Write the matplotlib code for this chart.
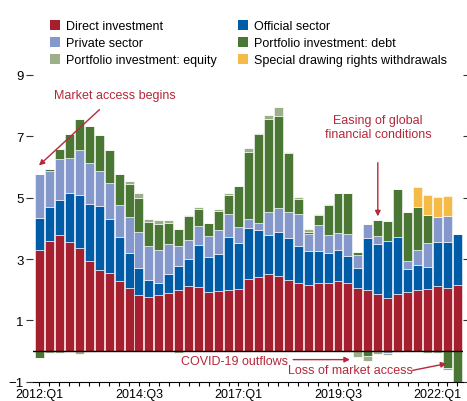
import numpy as np
import matplotlib
matplotlib.use("Agg")
import matplotlib.pyplot as plt
from matplotlib.patches import Patch

plt.rcParams['font.family'] = ['Liberation Sans Narrow', 'Liberation Sans', 'DejaVu Sans']

# quarters 2012:Q1 .. 2022:Q3
quarters = [f"{y}:Q{q}" for y in range(2012, 2023) for q in range(1, 5)][:43]

direct = [3.31, 3.59, 3.77, 3.54, 3.36, 2.94, 2.65, 2.55, 2.29, 2.04,
          1.83, 1.76, 1.83, 1.90, 1.98, 2.11, 2.09, 1.93, 1.96, 1.99,
          2.03, 2.36, 2.40, 2.52, 2.44, 2.33, 2.21, 2.14, 2.21, 2.21,
          2.29, 2.22, 2.04, 1.98, 1.85, 1.73, 1.85, 1.93, 1.99, 2.02,
          2.11, 2.06, 2.14]
official = [1.03, 1.12, 1.15, 1.60, 1.73, 1.85, 2.08, 1.75, 1.42, 1.15,
            0.87, 0.57, 0.40, 0.62, 0.79, 0.89, 1.36, 1.12, 1.20, 1.72,
            1.49, 1.65, 1.54, 1.26, 1.44, 1.37, 1.20, 1.13, 1.06, 0.99,
            1.00, 0.89, 0.68, 1.70, 1.64, 1.86, 1.88, 0.73, 0.80, 0.71,
            1.45, 1.50, 1.68]
private = [1.44, 1.16, 1.33, 1.15, 1.45, 1.35, 1.13, 1.19, 1.06, 1.18,
           1.17, 1.11, 1.08, 0.98, 0.67, 0.61, 0.63, 0.69, 0.79, 0.77,
           0.54, 0.29, 0.24, 0.75, 0.77, 0.84, 1.06, 0.54, 0.84, 0.58,
           0.56, 0.69, 0.40, 0.46, 0.27, -0.07, 0.0, 0.29, 0.49, 0.79,
           0.81, 0.85, 0.0]
debt = [-0.24, 0.06, 0.33, 0.78, 1.02, 1.21, 1.17, 1.05, 1.01, 1.08,
        1.11, 0.76, 0.82, 0.68, 0.53, 0.80, 0.56, 0.43, 0.61, 0.60,
        1.31, 2.19, 2.89, 3.04, 3.02, 1.93, 0.49, 0.07, 0.32, 0.99,
        1.31, 1.35, 0.11, -0.17, 0.51, 0.64, 1.54, 1.57, 1.41, 0.92,
        0.0, -0.56, -1.03]
equity = [0.0, -0.07, -0.07, -0.03, -0.09, -0.02, 0.02, 0.0, 0.0, 0.09,
          0.17, 0.12, 0.15, 0.09, -0.05, 0.03, 0.04, 0.0, 0.06, 0.07,
          0.0, 0.14, 0.05, 0.11, 0.28, 0.03, 0.06, 0.09, 0.05, 0.02,
          0.0, -0.03, -0.20, -0.16, -0.11, -0.06, -0.03, 0.0, 0.0, -0.07,
          -0.08, -0.05, 0.0]
sdr = [0.0] * 38 + [0.65, 0.64, 0.64, 0.64, 0.0]

series = [
    ("Direct investment", direct, "#A61F2F"),
    ("Official sector", official, "#005CA7"),
    ("Private sector", private, "#8498CB"),
    ("Portfolio investment: debt", debt, "#4A7834"),
    ("Portfolio investment: equity", equity, "#9CAF89"),
    ("Special drawing rights withdrawals", sdr, "#F4BC47"),
]
ann_red = "#B5283A"

fig = plt.figure(figsize=(4.67, 4.02), dpi=100)
ax = fig.add_axes([0.0717, 0.048, 0.9206, 0.763])

x = np.arange(len(quarters))
pos_base = np.zeros(len(x))
neg_base = np.zeros(len(x))
for name, vals, color in series:
    v = np.array(vals)
    pos = np.where(v > 0, v, 0)
    neg = np.where(v < 0, v, 0)
    ax.bar(x, pos, bottom=pos_base, width=0.9, color=color,
           edgecolor="white", linewidth=0.4)
    ax.bar(x, neg, bottom=neg_base, width=0.9, color=color,
           edgecolor="white", linewidth=0.4)
    pos_base += pos
    neg_base += neg

ax.axhline(0, color="black", lw=1)

ax.set_xlim(-0.6, 42.6)
ax.set_ylim(-1, 9)
ax.set_yticks([-1, 1, 3, 5, 7, 9])
ax.set_yticklabels(["\u22121", "1", "3", "5", "7", "9"])
ax.set_xticks(x)
ax.set_xticklabels([q if i % 10 == 0 else "" for i, q in enumerate(quarters)])
ax.tick_params(axis="x", length=3, width=0.8, pad=1.5, labelsize=9)
ax.tick_params(axis="y", length=5, width=0.8, pad=2, labelsize=9.5,
               right=True, labelright=False, colors="#333333", labelcolor="black")
for s in ["left", "right", "top"]:
    ax.spines[s].set_visible(False)
ax.spines["bottom"].set_linewidth(0.8)

# annotations
akw = dict(arrowstyle="-|>", color=ann_red, lw=1, mutation_scale=8)
ax.annotate("Market access begins", xy=(-0.05, 6.05), xytext=(7.6, 8.34),
            ha="center", va="center", color=ann_red, fontsize=9,
            arrowprops=dict(akw, shrinkA=6, shrinkB=0), annotation_clip=False)
ax.annotate("Easing of global\nfinancial conditions", xy=(34.0, 4.39), xytext=(34.0, 7.3),
            ha="center", va="center", color=ann_red, fontsize=9, linespacing=1.3,
            arrowprops=dict(akw, shrinkA=14, shrinkB=0), annotation_clip=False)
ax.annotate("", xy=(31.2, -0.28), xytext=(25.5, -0.28),
            arrowprops=dict(akw, shrinkA=0, shrinkB=0), annotation_clip=False)
ax.text(19.6, -0.33, "COVID-19 outflows", ha="center", va="center",
        color=ann_red, fontsize=9)
ax.annotate("", xy=(40.9, -0.41), xytext=(37.5, -0.63),
            arrowprops=dict(akw, shrinkA=0, shrinkB=0), annotation_clip=False)
ax.text(31.2, -0.63, "Loss of market access", ha="center", va="center",
        color=ann_red, fontsize=9)

handles = [Patch(facecolor=c, label=n) for n, _, c in series]
order = [0, 2, 4, 1, 3, 5]
fig.legend([handles[i] for i in order], [series[i][0] for i in order],
           loc="upper left", bbox_to_anchor=(0.107, 0.947), ncol=2, frameon=False,
           fontsize=9, handlelength=0.8, handleheight=0.8, handletextpad=0.5,
           labelspacing=0.38, columnspacing=1.7, borderaxespad=0, borderpad=0)

fig.savefig("out.png", dpi=100)
